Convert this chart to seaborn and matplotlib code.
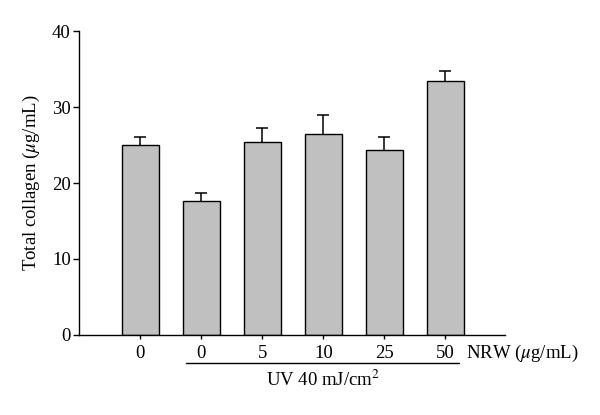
import matplotlib
matplotlib.use("Agg")
import matplotlib.pyplot as plt
import seaborn as sns
import pandas as pd
import numpy as np

groups = ["Control", "UV+0", "UV+5", "UV+10", "UV+25", "UV+50"]
tick_labels = ["0", "0", "5", "10", "25", "50"]
means = [25.0, 17.6, 25.35, 26.4, 24.3, 33.4]
errors = [1.05, 1.1, 1.95, 2.5, 1.75, 1.4]

sns.set_theme(style="white")
plt.rcParams["font.family"] = ["Liberation Serif", "DejaVu Serif"]
plt.rcParams["mathtext.fontset"] = "stix"

FS = 13.5
df = pd.DataFrame({"group": groups, "value": means})

fig = plt.figure(figsize=(6.0, 4.15), dpi=100)
ax = fig.add_axes([0.132, 0.193, 0.710, 0.732])

sns.barplot(data=df, x="group", y="value", order=groups, color="#c0c0c0",
            saturation=1, width=0.6, edgecolor="black", linewidth=1.0, ax=ax,
            zorder=2)

_, caps, _ = ax.errorbar(np.arange(len(groups)), means,
                         yerr=[np.zeros(len(errors)), errors],
                         fmt="none", ecolor="black", elinewidth=1.1, capsize=4,
                         capthick=1.1, zorder=1)
caps[0].set_visible(False)

ax.set_xlim(-1, 5.98)
ax.set_ylim(0, 40)
ax.set_yticks([0, 10, 20, 30, 40])
ax.set_xticks(np.arange(len(groups)))
ax.set_xticklabels(tick_labels)
ax.tick_params(axis="both", labelsize=FS, colors="black")
ax.tick_params(axis="y", direction="out", length=4, width=1, left=True, pad=2)
ax.tick_params(axis="x", direction="out", length=3, width=1, bottom=True, pad=4)
sns.despine(ax=ax)
for s in ["left", "bottom"]:
    ax.spines[s].set_color("black")
    ax.spines[s].set_linewidth(1.0)

ax.set_xlabel("")
ax.set_ylabel(r"Total collagen ($\mu$g/mL)", fontsize=FS, color="black", labelpad=7)

ax.text(5.34, -0.062, r"NRW ($\mu$g/mL)", transform=ax.get_xaxis_transform(),
        fontsize=FS, ha="left", va="center", color="black")
ax.plot([0.75, 5.23], [-0.093, -0.093], transform=ax.get_xaxis_transform(),
        color="black", lw=1.0, clip_on=False)
ax.text(3.0, -0.148, r"UV 40 mJ/cm$^2$", transform=ax.get_xaxis_transform(),
        fontsize=FS, ha="center", va="center", color="black")

fig.savefig("out.png", dpi=100)
